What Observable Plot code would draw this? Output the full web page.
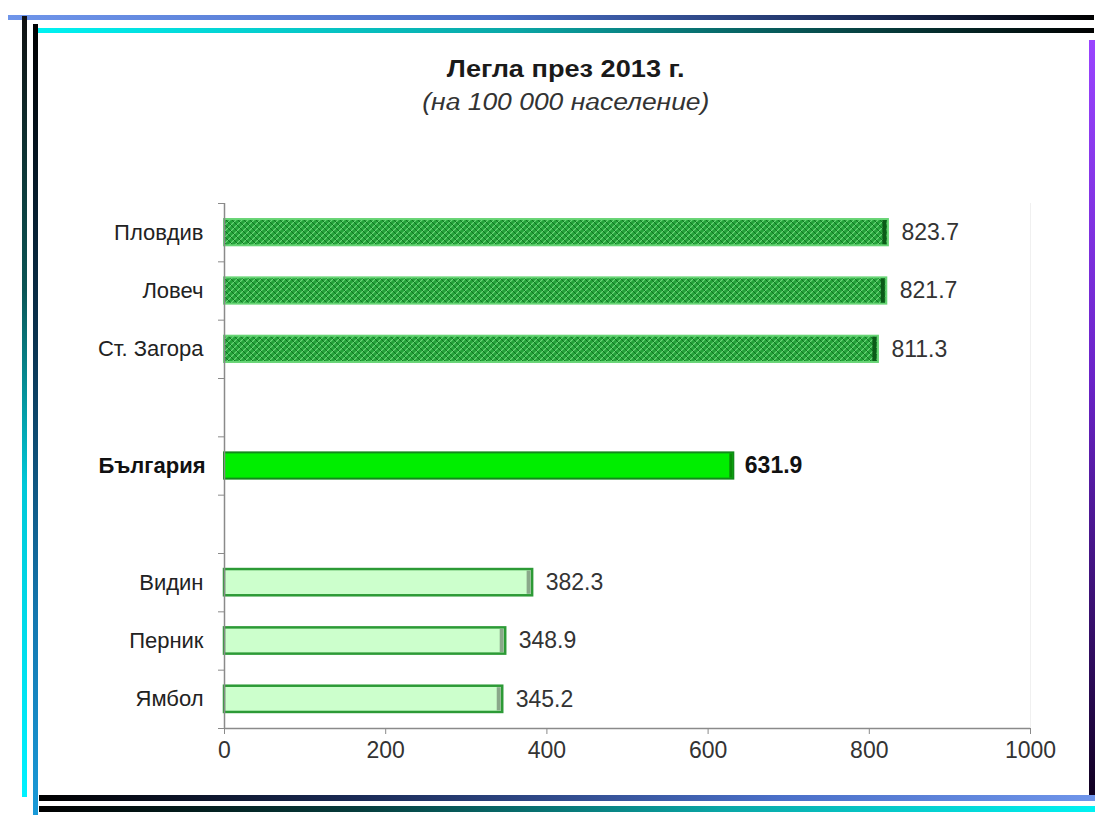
<!DOCTYPE html>
<html>
<head>
<meta charset="utf-8">
<script src="https://cdn.jsdelivr.net/npm/d3@7"></script>
<script src="https://cdn.jsdelivr.net/npm/@observablehq/plot@0.6"></script>
<style>
  html, body { margin: 0; padding: 0; background: #fff; }
  #page { position: relative; width: 1098px; height: 815px; overflow: hidden; background: #fff; font-family: "Liberation Sans", Arial, sans-serif; }
  .line { position: absolute; }
  #title { position: absolute; left: 40px; width: 1052px; top: 56px; text-align: center; font-size: 23px; font-weight: bold; color: #1a1a1a; }
  #title span { display: inline-block; transform: scaleX(1.18); }
  #subtitle { position: absolute; left: 40px; width: 1052px; top: 89px; text-align: center; font-size: 23px; font-style: italic; color: #333; }
  #subtitle span { display: inline-block; transform: scaleX(1.15); }
  #chart { position: absolute; left: 0; top: 180px; }
</style>
</head>
<body>
<div id="page">
  <div id="chart"></div>
  <div id="title"><span>Легла през 2013 г.</span></div>
  <div id="subtitle"><span>(на 100 000 население)</span></div>
  <div class="line" style="left:8px;top:15px;width:1086px;height:5px;background:linear-gradient(to right,#6f95ea,#4a6fc8 45%,#1a2a55 80%,#000);"></div>
  <div class="line" style="left:36px;top:28px;width:1058px;height:5px;background:linear-gradient(to right,#00f2f2,#0aa7a7 45%,#063c3c 80%,#000);"></div>
  <div class="line" style="left:22px;top:16px;width:5px;height:781px;background:linear-gradient(to bottom,#111,#0b5555 35%,#00c8d8 60%,#00f2ff);"></div>
  <div class="line" style="left:33px;top:24px;width:5px;height:791px;background:linear-gradient(to bottom,#000,#0a3350 40%,#1478b0 75%,#1a9ad8);"></div>
  <div class="line" style="left:1089px;top:40px;width:6px;height:757px;background:linear-gradient(to bottom,#9a44ff,#6a22c8 45%,#2a0a55 85%,#100020);"></div>
  <div class="line" style="left:39px;top:795px;width:1056px;height:6px;background:linear-gradient(to right,#000,#1a2a55 30%,#4a6fc8 70%,#6f95ea);"></div>
  <div class="line" style="left:39px;top:806px;width:1056px;height:6px;background:linear-gradient(to right,#000,#063c3c 30%,#0aa7a7 65%,#00f2f2);"></div>
</div>
<script>
// ---- data ----
const categories = ["Пловдив", "Ловеч", "Ст. Загора", null, "България", null, "Видин", "Перник", "Ямбол"];
const values = [823.7, 821.7, 811.3, null, 631.9, null, 382.3, 348.9, 345.2];
const groups = ["top", "top", "top", null, "national", null, "bottom", "bottom", "bottom"];
const xTicks = [0, 200, 400, 600, 800, 1000];

// ---- build rows ----
const rows = categories
  .map((name, i) => ({i, name, value: values[i], group: groups[i]}))
  .filter(d => d.name !== null);

const pad = 0.275;
const byGroup = g => rows.filter(d => d.group === g);
const y1 = d => d.i + pad, y2 = d => d.i + 1 - pad, yc = d => d.i + 0.5;

const svg = Plot.plot({
  width: 1098,
  height: 600,
  marginTop: 23,
  marginBottom: 52,
  marginLeft: 224,
  marginRight: 68,
  style: {background: "transparent", color: "#333", fontFamily: "'Liberation Sans', Arial, sans-serif"},
  x: {domain: [0, 1000], label: null},
  y: {domain: [0, categories.length], reverse: true, axis: null, label: null},
  marks: [
    Plot.ruleX([1000], {y1: 0, y2: categories.length, stroke: "#f0f0f0", strokeWidth: 1}),
    // top regions (patterned)
    Plot.rectX(byGroup("top"), {x1: 0, x2: "value", y1, y2, fill: "url(#weave)", stroke: "#66d474", strokeWidth: 2}),
    Plot.ruleX(byGroup("top"), {x: "value", y1, y2, dx: -4, stroke: "#0b5a18", strokeWidth: 4, insetTop: 1, insetBottom: 1}),
    // national
    Plot.rectX(byGroup("national"), {x1: 0, x2: "value", y1, y2, fill: "#00ee00", stroke: "#128a1a", strokeWidth: 2}),
    Plot.ruleX(byGroup("national"), {x: "value", y1, y2, dx: -3, stroke: "#0a8a0a", strokeWidth: 3, insetTop: 1, insetBottom: 1}),
    // bottom regions
    Plot.rectX(byGroup("bottom"), {x1: 0, x2: "value", y1, y2, fill: "#ccffcc", stroke: "#2c9a36", strokeWidth: 2.5}),
    Plot.ruleX(byGroup("bottom"), {x: "value", y1, y2, dx: -4, stroke: "#8aa88a", strokeWidth: 4, insetTop: 1.5, insetBottom: 1.5}),
    // axes lines
    Plot.ruleX([0], {y1: 0, y2: categories.length, stroke: "#8a8a8a", strokeWidth: 1.5}),
    Plot.ruleY([categories.length], {x1: 0, x2: 1000, stroke: "#8a8a8a", strokeWidth: 1.5}),
    Plot.axisY({ticks: d3.range(0, categories.length + 1), tickSize: 6, tickFormat: () => "", stroke: "#8a8a8a", label: null}),
    Plot.axisX({ticks: xTicks, tickSize: 6, tickPadding: 7, fontSize: 23, stroke: "#8a8a8a", fill: "#333", tickFormat: d => String(d), label: null}),
    // category labels
    Plot.text(rows.filter(d => d.group !== "national"), {x: 0, y: yc, text: "name", textAnchor: "end", dx: -21, fontSize: 22, fill: "#222"}),
    Plot.text(byGroup("national"), {x: 0, y: yc, text: "name", textAnchor: "end", dx: -19, fontSize: 22, fontWeight: "bold", fill: "#111"}),
    // value labels
    Plot.text(rows.filter(d => d.group !== "national"), {x: "value", y: yc, text: d => d.value.toFixed(1), textAnchor: "start", dx: 13, fontSize: 23, fill: "#333"}),
    Plot.text(byGroup("national"), {x: "value", y: yc, text: d => d.value.toFixed(1), textAnchor: "start", dx: 11, fontSize: 23, fontWeight: "bold", fill: "#111"})
  ]
});

// pattern definition for the hatched bars
const defs = d3.select(svg).insert("defs", ":first-child");
const pat = defs.append("pattern").attr("id", "weave").attr("patternUnits", "userSpaceOnUse").attr("width", 6).attr("height", 6);
pat.append("rect").attr("width", 6).attr("height", 6).attr("fill", "#24a23a");
pat.append("path").attr("d", "M0,6 L6,0 M-1,1 L1,-1 M5,7 L7,5").attr("stroke", "#6ad878").attr("stroke-width", 1.2);
pat.append("path").attr("d", "M0,0 L6,6 M5,-1 L7,1 M-1,5 L1,7").attr("stroke", "#0e7020").attr("stroke-width", 0.9);

document.getElementById("chart").appendChild(svg);
</script>
</body>
</html>
